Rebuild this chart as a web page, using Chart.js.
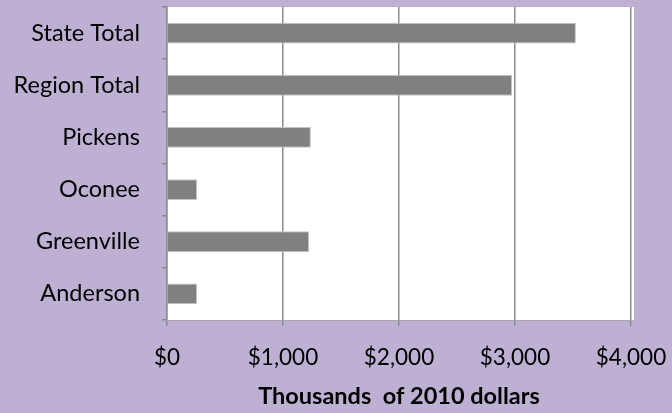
<!DOCTYPE html>
<html>
<head>
<meta charset="utf-8">
<script src="https://cdn.jsdelivr.net/npm/chart.js@4/dist/chart.umd.min.js"></script>
<style>
  html, body { margin: 0; padding: 0; background: #bdb0d3; }
  #wrap { width: 672px; height: 413px; }
</style>
</head>
<body>
<div id="wrap"><canvas id="myChartBarDollars"></canvas></div>
<script>
// categories top to bottom, as in the picture
const categories = ['State Total', 'Region Total', 'Pickens', 'Oconee', 'Greenville', 'Anderson'];
// thousands of 2010 dollars
const dollarValues = [3525, 2975, 1240, 260, 1225, 260];
const xTickValues = [0, 1000, 2000, 3000, 4000];
const xTitle = 'Thousands  of 2010 dollars';

const bgPurple = '#bdb0d3';
const gridGrey = '#8c8c8c';
const fontFamily = 'Lato, "Liberation Sans", sans-serif';

// paints the purple page and the white plot box
const backgroundPlugin = {
    id: 'background',
    beforeDraw(chart) {
        const c = chart.ctx;
        const a = chart.chartArea;
        c.save();
        c.fillStyle = bgPurple;
        c.fillRect(0, 0, chart.width, chart.height);
        c.fillStyle = '#ffffff';
        c.fillRect(a.left, a.top, a.right - a.left + 3, a.bottom - a.top);
        c.restore();
    }
};

const ctx = document.getElementById('myChartBarDollars').getContext('2d');
const chartBarInstance = new Chart(ctx, {
    type: 'bar',
    data: {
        labels: categories,
        datasets: [{
            data: dollarValues,
            backgroundColor: '#808080',
            borderColor: '#c4c4c4',
            borderWidth: 1,
            barPercentage: 0.4,
            categoryPercentage: 1
        }]
    },
    options: {
        indexAxis: 'y',
        responsive: true,
        maintainAspectRatio: false,
        animation: false,
        layout: { padding: { top: 7, right: 41, left: 0, bottom: 0 } },
        plugins: {
            legend: { display: false },
            tooltip: { enabled: false }
        },
        scales: {
            x: {
                min: 0,
                max: 4000,
                afterBuildTicks: scale => { scale.ticks = xTickValues.map(v => ({ value: v })); },
                afterFit: scale => {
                    scale.height = 93;
                    scale.paddingLeft = 0;
                    scale.paddingRight = 0;
                },
                border: { display: true, color: '#a6a6a6', width: 1 },
                grid: { color: gridGrey, lineWidth: 1.5, tickLength: 6, drawTicks: true },
                ticks: {
                    color: '#000',
                    padding: 18,
                    maxRotation: 0,
                    font: { family: fontFamily, size: 22.5 },
                    callback: v => '$' + v.toLocaleString('en-US')
                },
                title: {
                    display: true,
                    text: xTitle,
                    color: '#000',
                    padding: { top: 0, bottom: 2 },
                    font: { family: fontFamily, size: 23.5, weight: 'bold' }
                }
            },
            y: {
                afterFit: scale => {
                    scale.width = 167;
                    scale.paddingTop = 0;
                    scale.paddingBottom = 0;
                },
                border: { display: true, color: gridGrey, width: 1.5 },
                grid: { drawOnChartArea: false, color: gridGrey, lineWidth: 1.5, tickLength: 5 },
                ticks: {
                    color: '#000',
                    padding: 22,
                    font: { family: fontFamily, size: 23.5 }
                }
            }
        }
    },
    plugins: [backgroundPlugin]
});
</script>
</body>
</html>
